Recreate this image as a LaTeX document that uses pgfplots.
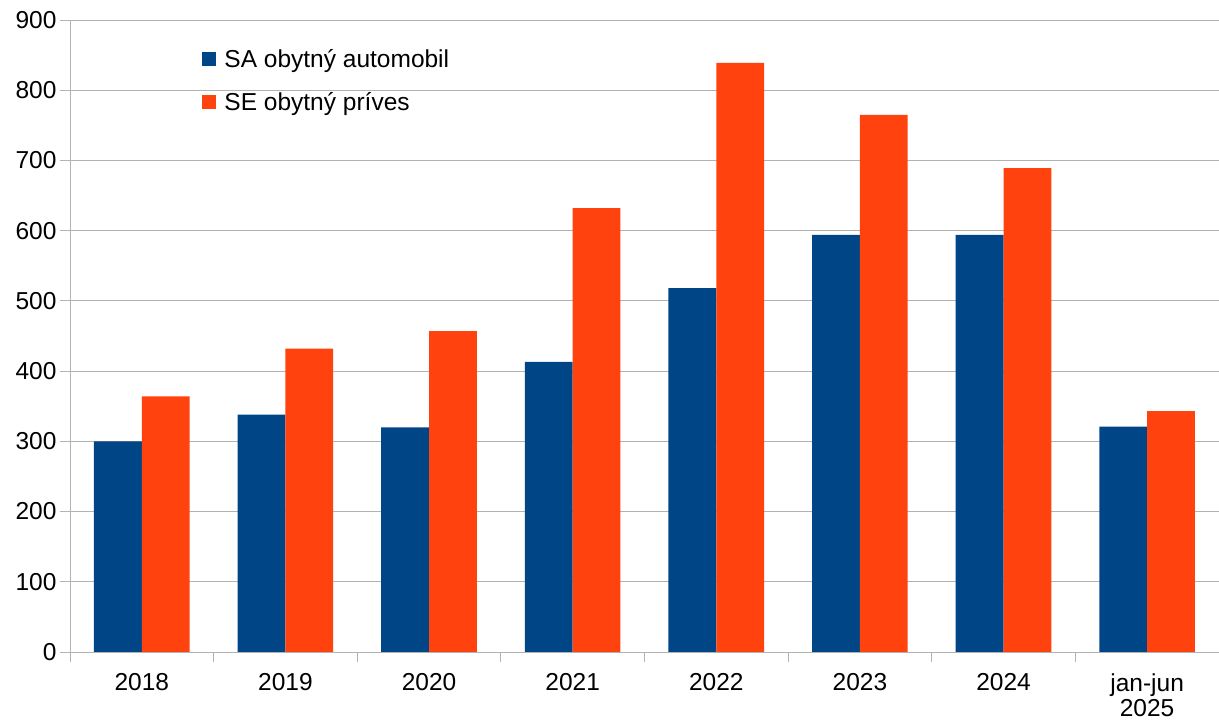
\documentclass[border=0pt]{standalone}
\usepackage{pgfplots}
\pgfplotsset{compat=1.18}
\usepackage{fontspec}
\setmainfont{Liberation Sans}

\definecolor{saBlue}{HTML}{004586}
\definecolor{seOrange}{HTML}{FF420E}
\definecolor{gridGray}{HTML}{B3B3B3}

\pgfplotstableread{
x sa se
0 300 364
1 338 432
2 320 457
3 413 632
4 518 839
5 594 765
6 594 689
7 321 343
}\data

\begin{document}
\begin{tikzpicture}
  % frame of the page: 1219 x 722, plot area 1149 x 632
  \path[use as bounding box] (-70pt,-70pt) rectangle (1149pt,652pt);
  \begin{axis}[
      scale only axis,
      width=1149pt, height=632pt,
      ybar=0pt, bar width=0.333,
      xmin=-0.5, xmax=7.5,
      ymin=0, ymax=900,
      ytick={0,100,...,900},
      xtick={0,...,7},
      xticklabels={2018,2019,2020,2021,2022,2023,2024,{jan-jun\\2025}},
      minor xtick={-0.5,0.5,...,7.5},
      xticklabel style={align=center, font=\fontsize{24.5}{25}\selectfont, yshift=-8pt},
      yticklabel style={font=\fontsize{24.5}{28}\selectfont},
      /pgf/number format/assume math mode=true,
      major x tick style={draw=none},
      minor x tick style={draw=gridGray, thick},
      major y tick style={draw=gridGray, thick},
      tick align=outside,
      major tick length=10pt, minor tick length=10pt,
      ymajorgrids=true,
      grid style={gridGray, thick},
      axis x line*=bottom, axis y line*=left,
      axis line style={gridGray, thick, -},
      legend style={draw=none, fill=none, at={(0.1125,0.96)}, anchor=north west,
        font=\fontsize{24.5}{28}\selectfont, row sep=19pt},
      legend cell align=left,
      legend image code/.code={\fill[#1] (0pt,-7pt) rectangle (14pt,7pt); \path (20pt,0pt);},
    ]
    \addplot[fill=saBlue, draw=none] table[x=x, y=sa] {\data};
    \addlegendentry{SA obytný automobil}
    \addplot[fill=seOrange, draw=none] table[x=x, y=se] {\data};
    \addlegendentry{SE obytný príves}
  \end{axis}
\end{tikzpicture}
\end{document}
